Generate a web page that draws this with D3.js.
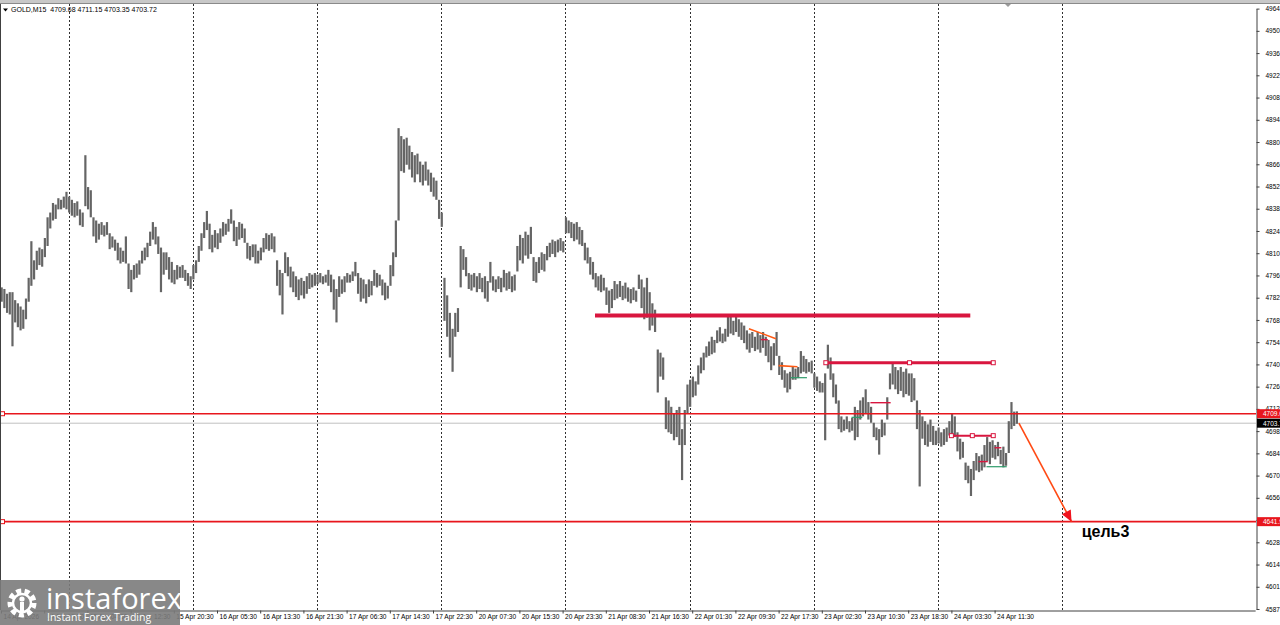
<!DOCTYPE html>
<html><head><meta charset="utf-8">
<script src="https://cdn.jsdelivr.net/npm/d3@7"></script>
<style>html,body{margin:0;padding:0;background:#fff;overflow:hidden}svg{display:block}</style>
</head><body><svg id="c" width="1280" height="625"></svg>
<script>
// ---- DATA (GOLD M15, drawn as 30-minute candles) ----
const highs = [
4789,4788,4785,4786,4786,4781,4779,4777,4775,4782,
4795,4818,4806,4812,4814,4813,4820,4833,4836,4842,
4841,4845,4844,4846,4849,4846,4844,4842,4843,4838,
4836,4872,4852,4850,4833,4831,4829,4830,4828,4830,
4823,4821,4819,4817,4814,4812,4821,4804,4800,4803,
4804,4806,4812,4814,4817,4824,4830,4827,4821,4814,
4811,4811,4808,4805,4800,4803,4802,4803,4800,4798,
4796,4803,4806,4815,4823,4830,4837,4829,4822,4825,
4823,4826,4830,4829,4832,4838,4831,4827,4830,4829,
4826,4817,4815,4816,4816,4812,4814,4820,4823,4822,
4823,4821,4806,4800,4798,4811,4808,4802,4799,4796,
4794,4795,4793,4796,4798,4797,4798,4797,4798,4796,
4797,4800,4797,4794,4788,4796,4794,4796,4798,4797,
4799,4805,4798,4795,4794,4791,4794,4793,4800,4798,
4797,4794,4792,4790,4803,4811,4831,4889,4884,4882,
4883,4878,4874,4872,4873,4868,4866,4868,4863,4861,
4858,4856,4844,4836,4795,4784,4773,4763,4773,4776,
4815,4813,4808,4798,4797,4798,4796,4798,4795,4796,
4793,4805,4796,4794,4796,4795,4800,4798,4799,4796,
4797,4815,4822,4820,4824,4822,4827,4808,4805,4808,
4811,4810,4815,4817,4819,4818,4819,4820,4818,4833,
4831,4830,4829,4830,4827,4825,4817,4814,4808,4805,
4798,4796,4797,4795,4789,4787,4788,4793,4791,4793,
4790,4792,4789,4788,4789,4787,4797,4794,4789,4795,
4786,4779,4775,4750,4748,4745,4720,4718,4714,4710,
4712,4714,4700,4712,4728,4731,4733,4730,4740,4745,
4748,4752,4755,4758,4756,4762,4764,4760,4763,4772,
4771,4768,4772,4769,4767,4765,4762,4760,4761,4758,
4761,4759,4761,4758,4756,4752,4754,4761,4746,4742,
4737,4735,4736,4739,4738,4739,4749,4746,4744,4742,
4743,4735,4733,4730,4729,4735,4753,4745,4735,4728,
4718,4708,4706,4708,4705,4707,4714,4712,4718,4720,
4725,4717,4714,4704,4701,4700,4706,4704,4720,4735,
4742,4739,4737,4739,4736,4738,4735,4735,4732,4718,
4712,4708,4705,4703,4706,4702,4699,4701,4698,4700,
4701,4705,4710,4708,4698,4694,4692,4679,4677,4675,
4680,4685,4683,4684,4690,4695,4692,4693,4690,4692,
4687,4689,4685,4705,4717,4711,4711.15];
const lows = [
4780,4776,4773,4772,4752,4767,4764,4762,4763,4769,
4780,4790,4794,4800,4803,4802,4808,4815,4826,4831,
4832,4838,4838,4839,4838,4836,4834,4833,4834,4828,
4827,4840,4838,4833,4821,4817,4819,4822,4821,4822,
4813,4814,4812,4806,4804,4805,4804,4788,4786,4794,
4795,4797,4804,4806,4808,4815,4819,4816,4810,4786,
4797,4800,4794,4792,4791,4794,4795,4795,4793,4790,
4788,4794,4798,4805,4812,4820,4825,4813,4811,4814,
4813,4817,4821,4822,4824,4829,4818,4815,4819,4820,
4817,4807,4806,4808,4804,4804,4806,4811,4813,4812,
4813,4811,4790,4784,4772,4798,4796,4789,4786,4783,
4781,4784,4782,4785,4788,4789,4790,4791,4792,4791,
4792,4790,4786,4775,4767,4783,4785,4786,4792,4792,
4793,4796,4785,4780,4782,4779,4783,4784,4790,4789,
4790,4784,4781,4782,4790,4796,4808,4831,4862,4861,
4866,4863,4858,4855,4860,4855,4853,4856,4853,4849,
4846,4844,4832,4827,4768,4758,4745,4736,4758,4761,
4789,4800,4796,4788,4787,4789,4786,4788,4786,4782,
4780,4792,4787,4786,4788,4786,4789,4787,4788,4786,
4787,4799,4806,4804,4809,4807,4810,4793,4792,4798,
4800,4799,4806,4808,4810,4808,4811,4812,4811,4823,
4823,4820,4818,4819,4816,4815,4806,4804,4797,4794,
4789,4787,4786,4787,4778,4773,4776,4781,4782,4783,
4781,4782,4780,4779,4781,4780,4788,4776,4769,4770,
4762,4765,4761,4723,4733,4731,4700,4698,4697,4693,
4695,4690,4668,4690,4710,4714,4720,4721,4728,4735,
4737,4745,4746,4747,4748,4754,4755,4754,4755,4758,
4760,4759,4761,4758,4756,4754,4750,4748,4751,4749,
4750,4748,4751,4746,4742,4737,4740,4746,4734,4731,
4726,4723,4725,4731,4731,4732,4735,4736,4735,4736,
4735,4726,4724,4723,4723,4693,4738,4731,4720,4716,
4700,4698,4699,4700,4698,4699,4693,4695,4706,4708,
4710,4706,4704,4695,4693,4684,4695,4696,4706,4725,
4728,4725,4722,4724,4720,4722,4721,4717,4718,4700,
4664,4694,4690,4689,4692,4690,4690,4691,4689,4690,
4692,4696,4697,4695,4686,4681,4682,4668,4666,4658,
4668,4674,4673,4674,4676,4680,4678,4682,4681,4683,
4678,4676,4677,4685,4700,4702,4703.35];

const timeLabels = ["14 Apr 2026","14 Apr 19:30","15 Apr 04:30","15 Apr 12:30","15 Apr 20:30",
"16 Apr 05:30","16 Apr 13:30","16 Apr 21:30","17 Apr 06:30","17 Apr 14:30","17 Apr 22:30",
"20 Apr 07:30","20 Apr 15:30","20 Apr 23:30","21 Apr 08:30","21 Apr 16:30","22 Apr 01:30",
"22 Apr 09:30","22 Apr 17:30","23 Apr 02:30","23 Apr 10:30","23 Apr 18:30","24 Apr 03:30","24 Apr 11:30"];
const priceTicks = [4587.05,4601.01,4614.98,4628.94,4642.90,4656.87,4670.83,4684.79,4698.75,4712.72,
4726.68,4740.64,4754.61,4768.57,4782.53,4796.50,4810.46,4824.42,4838.39,4852.35,4866.31,4880.28,
4894.24,4908.20,4922.17,4936.13,4950.09,4964.06];
const daySeparatorBars = [50,142,234,326,418,510,602,694,786];
const headerText = "GOLD,M15  4709.68 4711.15 4703.35 4703.72";
const bidPrice = 4703.72;
const redLevels = [4709.68, 4641.90];
const thickLevels = [[440,718,4771.3],[611,735,4741.7]];
const orangeSegs = [[554,4763.1,574,4756.8],[576,4739.9,590,4739.2]];
const greenSegs = [[585,4732.3,597,4732.3],[630,4707.4,638,4707.4],[730,4676.4,745,4676.4]];
const crimsonSegs = [[563,4756.2,568,4756.2],[644,4716.6,659,4716.6],[724,4679.6,731,4679.6],[736,4688.3,741,4688.3],[704,4695.9,735,4695.9]];
const targetArrow = [754,4703.7,793,4641.9];
const targetText = "цель3";
const targetTextPos = [800.5,4632];

// ---- LAYOUT ----
const W = 1280, H = 625, plotR = 1256, plotT = 4, plotB = 610;
const svg = d3.select("#c");
const x = d3.scaleLinear().domain([0, 929]).range([1, 1255.15]);
const y = d3.scaleLinear().domain([4587.05, 4964.06]).range([609, 8.6]);
const FONT = "'Liberation Sans', Arial, sans-serif";

// window top strip
svg.append("rect").attr("x",0).attr("y",0).attr("width",W).attr("height",3).attr("fill","#c8c8c8");
svg.append("line").attr("x1",0).attr("x2",W).attr("y1",3.5).attr("y2",3.5).attr("stroke","#8a8a8a");

svg.append("defs").append("clipPath").attr("id","pc")
  .append("rect").attr("x",0).attr("y",plotT).attr("width",plotR).attr("height",plotB-plotT);
const plot = svg.append("g").attr("clip-path","url(#pc)");

// day separators
plot.selectAll("line.sep").data(daySeparatorBars).join("line")
  .attr("x1",d=>Math.round(x(d))+0.5).attr("x2",d=>Math.round(x(d))+0.5)
  .attr("y1",plotT).attr("y2",plotB)
  .attr("stroke","#303030").attr("stroke-width",1).attr("stroke-dasharray","2,2");

// bid line
plot.append("line").attr("x1",0).attr("x2",plotR).attr("y1",y(bidPrice)).attr("y2",y(bidPrice))
  .attr("stroke","#c0c0c0").attr("stroke-width",1);

// candles (30-min high-low)
const candles = highs.map((h,i)=>({i, h, l: lows[i]}));
plot.selectAll("rect.c").data(candles).join("rect")
  .attr("x",d=>x(2*d.i+0.5)-1.1)
  .attr("width",2.2)
  .attr("y",d=>y(d.h))
  .attr("height",d=>Math.max(1, y(d.l)-y(d.h)))
  .attr("fill","#656565");

// red full-width levels
plot.selectAll("line.red").data(redLevels).join("line")
  .attr("x1",0).attr("x2",plotR).attr("y1",d=>y(d)).attr("y2",d=>y(d))
  .attr("stroke","#e8161d").attr("stroke-width",1.6);
plot.selectAll("rect.h").data(redLevels).join("rect")
  .attr("x",0.5).attr("y",d=>y(d)-2).attr("width",4).attr("height",4)
  .attr("fill","#fff").attr("stroke","#e8161d").attr("stroke-width",1);

// thick crimson levels
plot.selectAll("line.thick").data(thickLevels).join("line")
  .attr("x1",d=>x(d[0])).attr("x2",d=>x(d[1])).attr("y1",d=>y(d[2])).attr("y2",d=>y(d[2]))
  .attr("stroke","#d9163f").attr("stroke-width",(d,i)=>i===0?4:3);
const h2 = thickLevels[1];
plot.selectAll("rect.h2").data([h2[0], (h2[0]+h2[1])/2, h2[1]]).join("rect")
  .attr("x",d=>x(d)-2).attr("y",y(h2[2])-2).attr("width",4).attr("height",4)
  .attr("fill","#fff").attr("stroke","#d9163f").attr("stroke-width",1);

// small annotation segments
plot.selectAll("line.o").data(orangeSegs).join("line")
  .attr("x1",d=>x(d[0])).attr("y1",d=>y(d[1])).attr("x2",d=>x(d[2])).attr("y2",d=>y(d[3]))
  .attr("stroke","#ff5a14").attr("stroke-width",1.6);
plot.selectAll("line.g").data(greenSegs).join("line")
  .attr("x1",d=>x(d[0])).attr("y1",d=>y(d[1])).attr("x2",d=>x(d[2])).attr("y2",d=>y(d[3]))
  .attr("stroke","#2e9b6a").attr("stroke-width",1.2);
plot.selectAll("line.k").data(crimsonSegs).join("line")
  .attr("x1",d=>x(d[0])).attr("y1",d=>y(d[1])).attr("x2",d=>x(d[2])).attr("y2",d=>y(d[3]))
  .attr("stroke","#d9163f").attr("stroke-width",(d,i)=>i===4?2:1.4);
const cs = crimsonSegs[4];
plot.selectAll("rect.h3").data([cs[0], (cs[0]+cs[2])/2, cs[2]]).join("rect")
  .attr("x",d=>x(d)-2).attr("y",y(cs[1])-2).attr("width",4).attr("height",4)
  .attr("fill","#fff").attr("stroke","#d9163f").attr("stroke-width",1);

// target arrow
const ax1 = x(targetArrow[0]), ay1 = y(targetArrow[1]), ax2 = x(targetArrow[2]), ay2 = y(targetArrow[3]);
plot.append("line").attr("x1",ax1).attr("y1",ay1).attr("x2",ax2).attr("y2",ay2)
  .attr("stroke","#ff4a14").attr("stroke-width",1.6);
const ang = Math.atan2(ay2-ay1, ax2-ax1), L = 11, wdt = 5;
const bx = ax2 - L*Math.cos(ang), by = ay2 - L*Math.sin(ang);
plot.append("path").attr("d",`M${ax2},${ay2}L${bx - wdt*Math.sin(ang)},${by + wdt*Math.cos(ang)}L${bx + wdt*Math.sin(ang)},${by - wdt*Math.cos(ang)}Z`)
  .attr("fill","#f0141e");
plot.append("text").attr("x",x(targetTextPos[0])).attr("y",y(targetTextPos[1]))
  .attr("font-family",FONT).attr("font-weight","bold").attr("font-size",16).attr("fill","#000").text(targetText);

// frame
svg.append("line").attr("x1",0.5).attr("x2",0.5).attr("y1",plotT).attr("y2",plotB).attr("stroke","#404040");

// Y axis
const yAxis = d3.axisRight(y).tickValues(priceTicks).tickFormat(d=>d.toFixed(2)).tickSize(3).tickSizeOuter(0).tickPadding(6);
const gy = svg.append("g").attr("transform",`translate(${plotR+0.5},0)`).call(yAxis);
gy.select(".domain").attr("stroke","#404040");
gy.selectAll(".tick line").attr("stroke","#404040");
gy.selectAll("text").attr("font-family",FONT).attr("font-size",6.5).attr("fill","#000");

// X axis
const xAxis = d3.axisBottom(x).tickValues(timeLabels.map((t,i)=>i*32)).tickFormat((d,i)=>timeLabels[i]).tickSize(3).tickSizeOuter(0).tickPadding(1);
const gx = svg.append("g").attr("transform",`translate(0,${plotB+0.5})`).call(xAxis);
gx.select(".domain").attr("stroke","#404040");
gx.selectAll(".tick line").attr("stroke","#404040");
gx.selectAll("text").attr("font-family",FONT).attr("font-size",6.6).attr("fill","#000").attr("text-anchor","start").attr("dx",2);

// price labels on axis
const lbl = svg.append("g");
redLevels.forEach(v=>{
  lbl.append("rect").attr("x",plotR+1).attr("y",y(v)-4.5).attr("width",30).attr("height",9).attr("fill","#e8161d");
  lbl.append("text").attr("x",plotR+7).attr("y",y(v)+2.5).attr("font-family",FONT).attr("font-size",6.5).attr("fill","#fff").text(v.toFixed(2));
});
lbl.append("rect").attr("x",plotR+1).attr("y",y(bidPrice)-4.5).attr("width",30).attr("height",9).attr("fill","#000");
lbl.append("text").attr("x",plotR+7).attr("y",y(bidPrice)+2.5).attr("font-family",FONT).attr("font-size",6.5).attr("fill","#fff").text(bidPrice.toFixed(2));

// header
svg.append("path").attr("d","M3,8.5L8,8.5L5.5,11.5Z").attr("fill","#000");
svg.append("text").attr("x",11).attr("y",12).attr("font-family",FONT).attr("font-size",7).attr("fill","#000").attr("xml:space","preserve").text(headerText);

// shift marker
svg.append("path").attr("d","M1005,4L1011,4L1008,7Z").attr("fill","#9a9a9a");

// logo
const logo = svg.append("g");
logo.append("rect").attr("x",0).attr("y",580).attr("width",180).attr("height",45).attr("fill","#7b7b7b").attr("opacity",0.9);
const gc = [22,603];
logo.append("circle").attr("cx",gc[0]).attr("cy",gc[1]).attr("r",12).attr("fill","none").attr("stroke","#fff").attr("stroke-width",5).attr("stroke-dasharray","5,3.4");
logo.append("circle").attr("cx",gc[0]).attr("cy",gc[1]).attr("r",9).attr("fill","none").attr("stroke","#fff").attr("stroke-width",2.5);
logo.append("circle").attr("cx",gc[0]).attr("cy",gc[1]-4).attr("r",2.6).attr("fill","#fff");
logo.append("rect").attr("x",gc[0]-2).attr("y",gc[1]-1).attr("width",4).attr("height",10).attr("fill","#fff");
logo.append("text").attr("x",46).attr("y",609).attr("font-family","'Open Sans', 'DejaVu Sans', sans-serif").attr("font-size",29).attr("fill","#fff").text("instaforex");
logo.append("text").attr("x",47).attr("y",621).attr("font-family","'Open Sans', Arial, sans-serif").attr("font-size",10.5).attr("fill","#fff").text("Instant Forex Trading");
</script></body></html>
